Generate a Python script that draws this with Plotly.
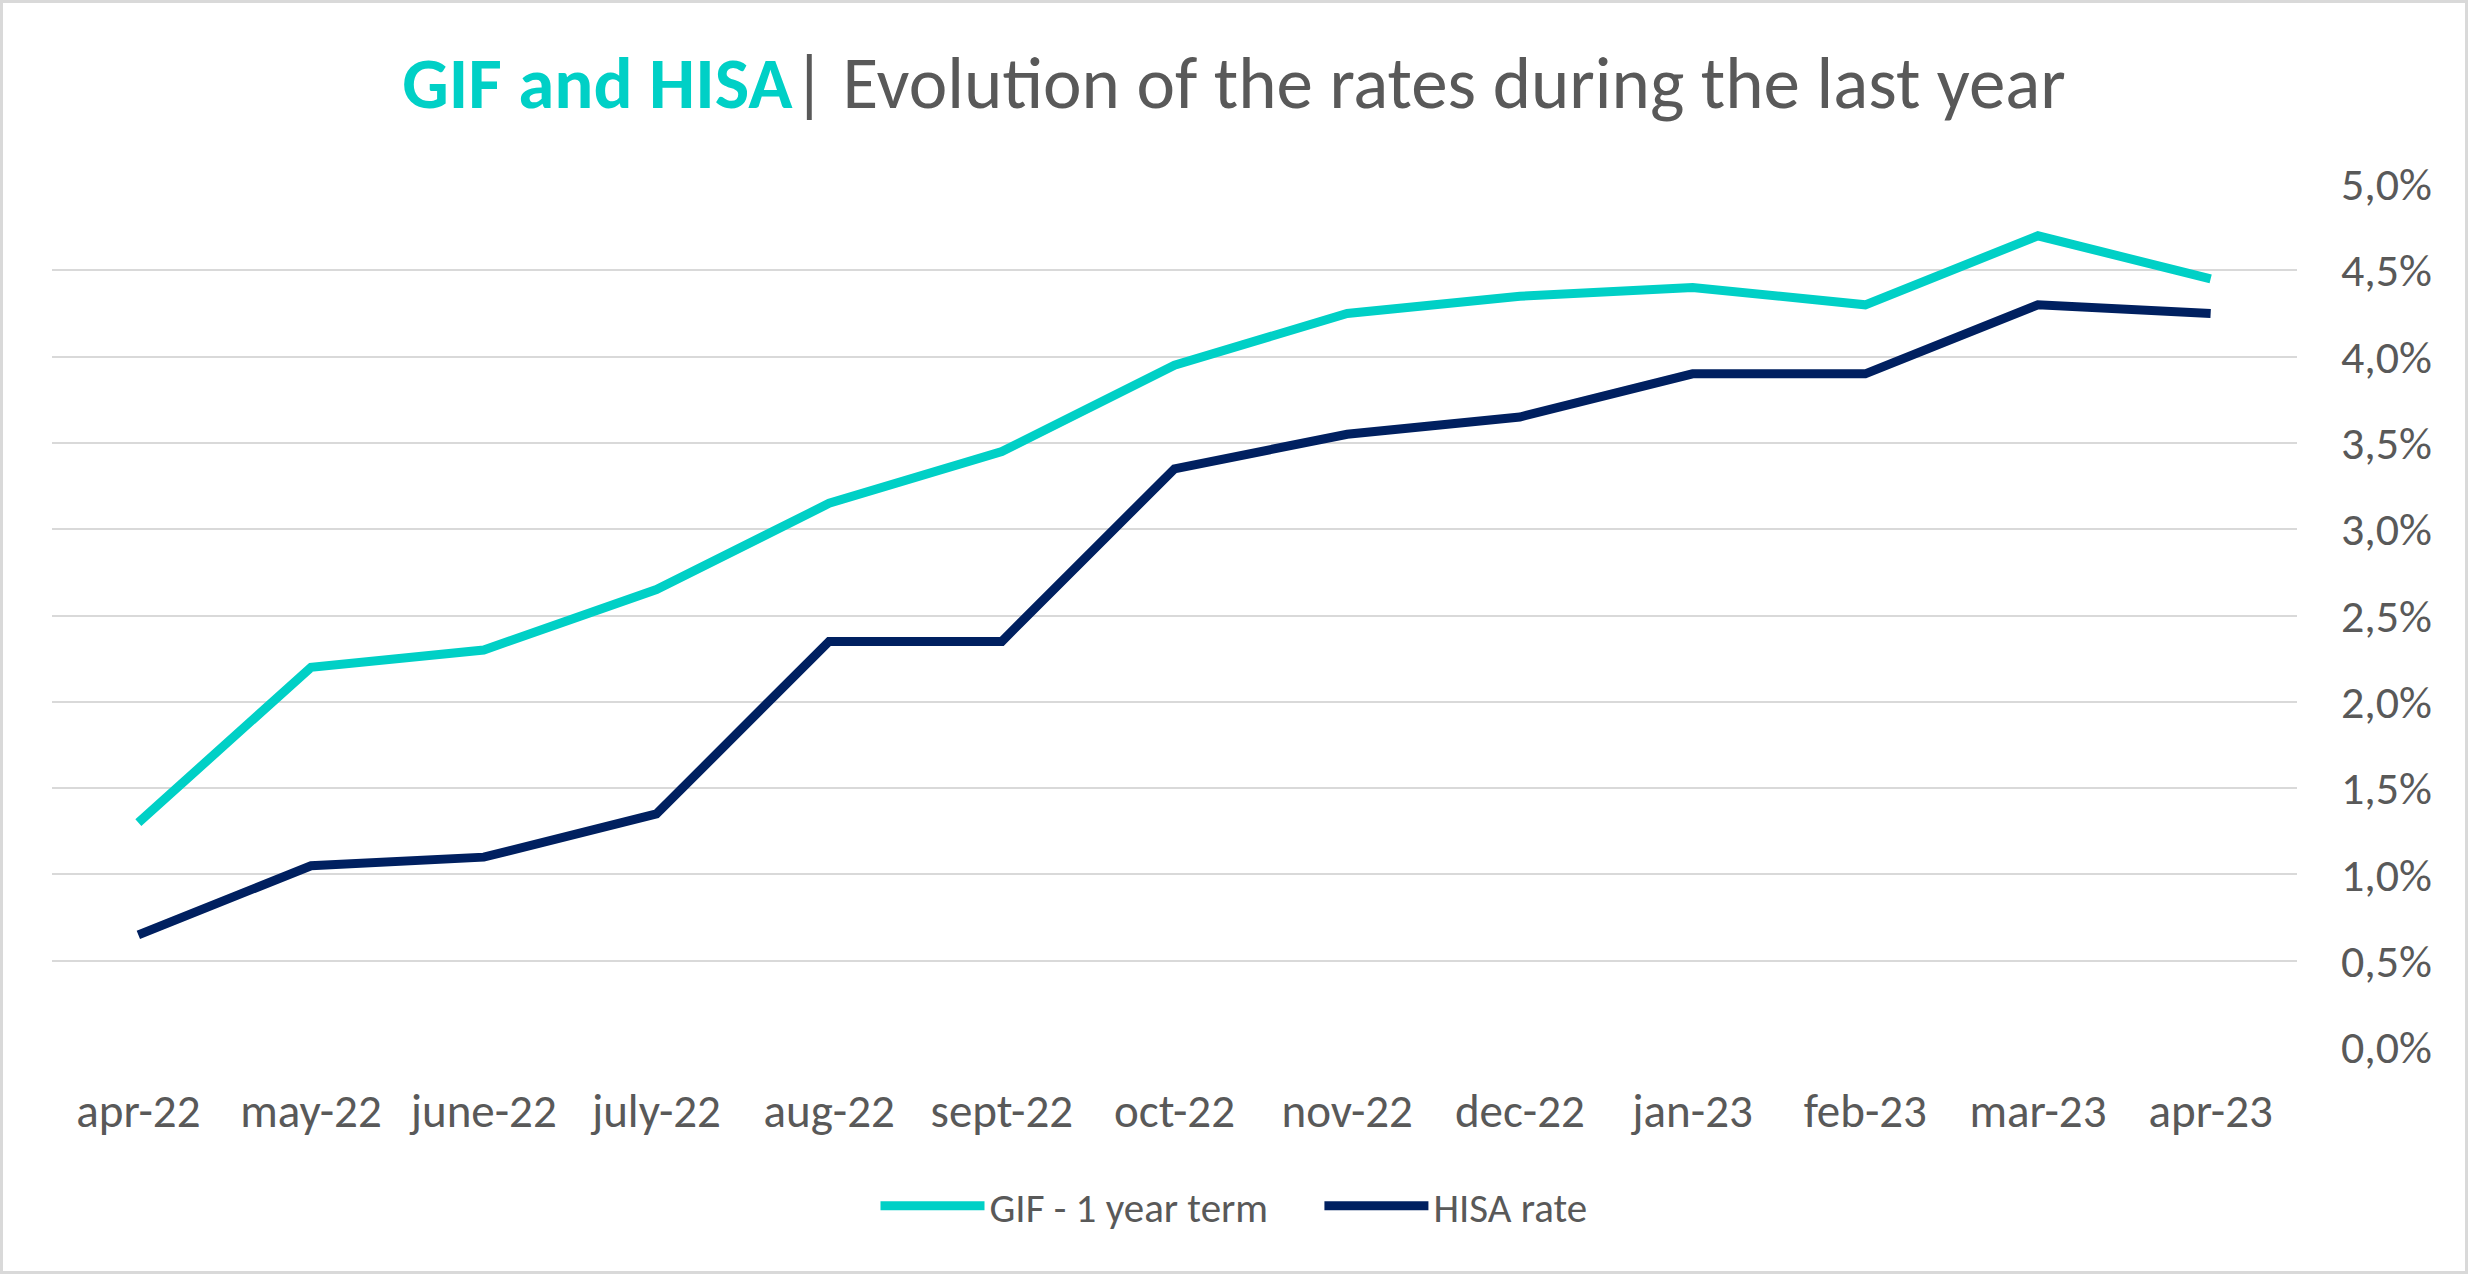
import plotly.graph_objects as go

months = ["apr-22", "may-22", "june-22", "july-22", "aug-22", "sept-22", "oct-22",
          "nov-22", "dec-22", "jan-23", "feb-23", "mar-23", "apr-23"]
gif_rates = [1.30, 2.20, 2.30, 2.65, 3.15, 3.45, 3.95, 4.25, 4.35, 4.40, 4.30, 4.70, 4.45]
hisa_rates = [0.65, 1.05, 1.10, 1.35, 2.35, 2.35, 3.35, 3.55, 3.65, 3.90, 3.90, 4.30, 4.25]
y_ticks = [0, 0.5, 1.0, 1.5, 2.0, 2.5, 3.0, 3.5, 4.0, 4.5, 5.0]
y_labels = ["0,0%", "0,5%", "1,0%", "1,5%", "2,0%", "2,5%", "3,0%", "3,5%", "4,0%", "4,5%", "5,0%"]

CYAN = "#00D0C6"
NAVY = "#002060"
GRAY = "#595959"
FONT = "Carlito, Calibri, 'Liberation Sans Narrow', 'Open Sans', sans-serif"

W, H = 2468, 1274
L, R, T, B = 52, 171, 184, 227

fig = go.Figure()
fig.add_trace(go.Scatter(x=months, y=gif_rates, mode="lines",
                         name="GIF - 1 year term" + "\u00a0" * 5,
                         line=dict(color=CYAN, width=9)))
fig.add_trace(go.Scatter(x=months, y=hisa_rates, mode="lines", name="HISA rate",
                         line=dict(color=NAVY, width=9)))

pw = W - L - R
ph = H - T - B
fig.add_shape(type="rect", xref="paper", yref="paper",
              x0=(-L + 1.5) / pw, x1=(W - L - 1.5) / pw,
              y0=(-B + 1.5) / ph, y1=(H - B - 1.5) / ph,
              line=dict(color="#D9D9D9", width=3), layer="below")

fig.update_layout(
    width=W, height=H,
    margin=dict(l=L, r=R, t=T, b=B),
    paper_bgcolor="white", plot_bgcolor="white",
    font=dict(family=FONT, color=GRAY, size=46),
    title=dict(
        text=f"<b><span style='color:{CYAN}'>GIF and HISA</span></b>| Evolution of the rates during the last year",
        x=0.5, xref="container", xanchor="center", y=1 - 82 / H, yanchor="middle",
        font=dict(family=FONT, size=73, color=GRAY)),
    showlegend=True,
    legend=dict(orientation="h", x=0.5, xanchor="center", xref="container",
                y=1 - 1206 / H, yref="container", yanchor="middle",
                font=dict(family=FONT, size=41, color=GRAY), itemwidth=104,
                traceorder="normal"),
    xaxis=dict(type="category", showgrid=False, zeroline=False, showline=False,
               ticks="", tickfont=dict(size=47, color=GRAY), ticklabelstandoff=32,
               range=[-0.5, len(months) - 0.5]),
    yaxis=dict(side="right", range=[0, 5], tickvals=y_ticks, ticktext=y_labels,
               showgrid=True, gridcolor="#D9D9D9", gridwidth=2, zeroline=False,
               showline=False, ticks="", tickfont=dict(size=46, color=GRAY),
               ticklabelstandoff=43),
)

fig.write_html("out.html", config={"displayModeBar": False},
               post_script="document.body.style.margin='0';")
